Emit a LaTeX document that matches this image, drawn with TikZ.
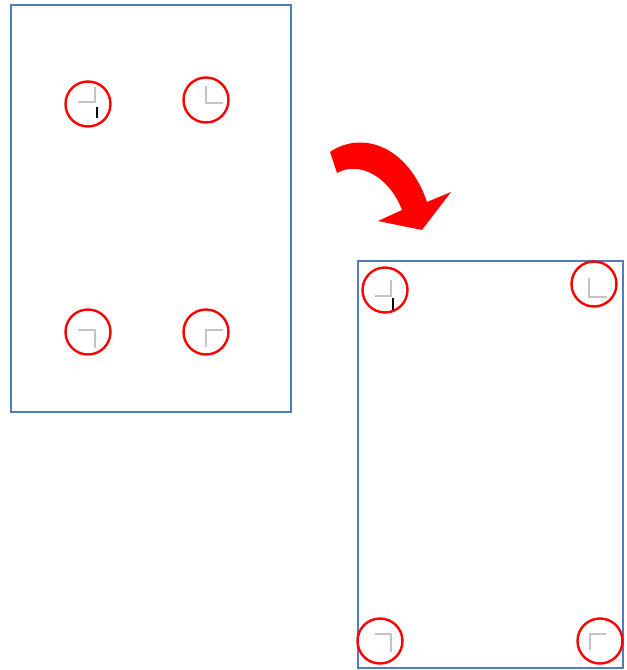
\documentclass[tikz,border=0pt]{standalone}
\usepackage{tikz}
\usetikzlibrary{positioning,calc}
\definecolor{pageblue}{RGB}{79,126,187}
\definecolor{markgray}{RGB}{196,196,196}
\tikzset{
	pagebox/.style={draw=pageblue, line width=2pt},
	spotcirc/.style={circle, draw=red, line width=2.4pt, minimum size=45pt, inner sep=0pt},
	cornermark/.style={draw=markgray, line width=1.4pt},
	cursorbar/.style={draw=black, line width=1.6pt},
	turnarrow/.style={fill=red, draw=none}
}
\begin{document}
\begin{tikzpicture}[x=1pt, y=-1pt]
	\useasboundingbox (0,0) rectangle (627,670);
	% portrait page
	\draw[pagebox] (11,5) rectangle (291,412);
	\node[spotcirc] (pa) at (88,104) {};
	\node[spotcirc] (pb) at (206,100) {};
	\node[spotcirc] (pc) at (88,332) {};
	\node[spotcirc] (pd) at (206,332) {};
	\draw[cornermark] (78,102) -- (95,102) -- (95,87);
	\draw[cursorbar] (97,107) -- (97,118);
	\draw[cornermark] (206,86) -- (206,103) -- (223,103);
	\draw[cornermark] (78,330) -- (95,330) -- (95,348);
	\draw[cornermark] (223,330) -- (206,330) -- (206,347);
	% rotation arrow
	\fill[turnarrow] (330,152) .. controls (362,130) and (408,146) .. (427,202)
		-- (451,192) -- (422,230) -- (378,221) -- (402,210)
		.. controls (390,178) and (360,160) .. (337,173) -- cycle;
	% rotated page
	\draw[pagebox] (358,261) rectangle (623,668);
	\node[spotcirc] (qa) at (385,290) {};
	\node[spotcirc] (qb) at (594,284) {};
	\node[spotcirc] (qc) at (380,641) {};
	\node[spotcirc] (qd) at (600,641) {};
	\draw[cornermark] (375,296) -- (391,296) -- (391,280);
	\draw[cursorbar] (393,298) -- (393,310);
	\draw[cornermark] (589,278) -- (589,297) -- (607,297);
	\draw[cornermark] (375,634) -- (391,634) -- (391,652);
	\draw[cornermark] (606,634) -- (590,634) -- (590,650);
\end{tikzpicture}
\end{document}
